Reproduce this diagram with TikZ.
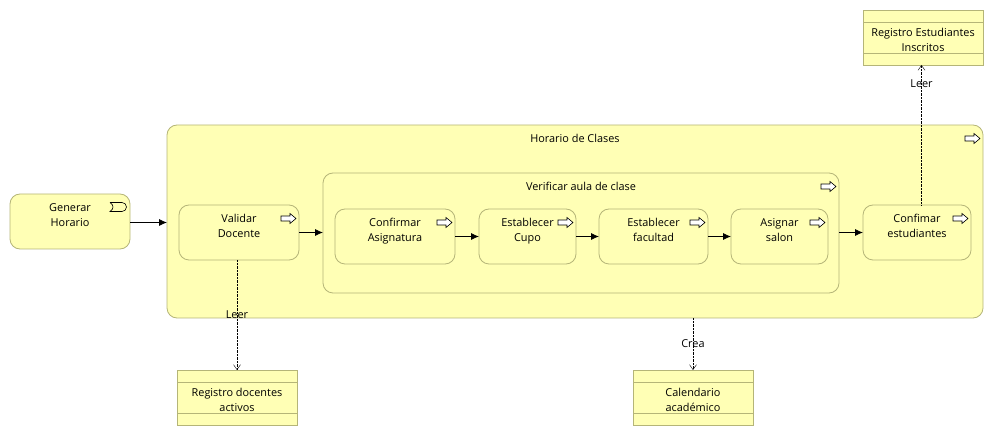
\documentclass[tikz,border=0pt]{standalone}
\usepackage{fontspec}
\setmainfont{Open Sans}
\usetikzlibrary{positioning,arrows.meta}
\definecolor{bizfill}{RGB}{255,255,181}
\definecolor{bizline}{RGB}{181,181,120}

\begin{document}
\begin{tikzpicture}[
    x=1pt,y=1pt,
    txt/.style    ={font=\fontsize{10.9}{15}\selectfont,align=center,text=black},
    box/.style    ={draw=bizline,line width=.8pt,fill=bizfill,rounded corners=10pt,inner sep=0pt,outer sep=0pt,txt},
    procbox/.style={box,minimum width=#1,minimum height=55pt},
    databox/.style={draw=bizline,line width=.8pt,fill=bizfill,inner sep=0pt,outer sep=0pt,txt,
                    minimum width=120pt,minimum height=55pt,
                    path picture={
                      \draw[bizline,line width=.8pt] ([yshift=-12pt]path picture bounding box.north west) -- ([yshift=-12pt]path picture bounding box.north east);
                      \draw[bizline,line width=.8pt] ([yshift=12pt]path picture bounding box.south west) -- ([yshift=12pt]path picture bounding box.south east);
                    }},
    flow/.style   ={-{Latex[length=8pt,width=7pt]},black,thick},
    access/.style ={-{Straight Barb[length=5pt,width=7pt]},black,densely dotted},
    linklabel/.style={txt,inner sep=0pt},
    procicon/.pic ={\draw[black,fill=white,line width=.6pt] (-15,-2.5) -- (-6,-2.5) -- (-6,-5) -- (0,0) -- (-6,5) -- (-6,2.5) -- (-15,2.5) -- cycle;},
    evticon/.pic  ={\draw[black,fill=bizfill,line width=.6pt] (-17,4.5) -- (-5,4.5) arc[start angle=90,end angle=-90,radius=4.5] -- (-17,-4.5) .. controls (-13,-2) and (-13,2) .. (-17,4.5);}
]
\useasboundingbox (0,0) rectangle (993,-435);

% outer process
\node[box,minimum width=816pt,minimum height=193pt,anchor=north west] (horario) at (167,-125) {};
\node[txt,below=6pt of horario.north] (horariotxt) {Horario de Clases};
\pic at ([shift={(-3,-13.5)}]horario.north east) {procicon};

% trigger
\node[procbox=120pt,anchor=north west] (generar) at (10,-194) {Generar\\Horario\\[-6pt]\strut};
\pic at ([shift={(-3,-13)}]generar.north east) {evticon};

\node[procbox=120pt,anchor=north west] (validar) at (179,-205) {Validar\\Docente\\[-6pt]\strut};
\pic at ([shift={(-3,-13.5)}]validar.north east) {procicon};

% inner process
\node[box,minimum width=516pt,minimum height=120pt,anchor=north west] (verificar) at (323,-173) {};
\node[txt,below=6pt of verificar.north] (verificartxt) {Verificar aula de clase};
\pic at ([shift={(-3,-13.5)}]verificar.north east) {procicon};

\node[procbox=120pt,anchor=north west] (asignatura) at (335,-209) {Confirmar\\Asignatura\\[-6pt]\strut};
\node[procbox=97pt,right=24pt of asignatura]  (cupo)     {Establecer\\Cupo\\[-6pt]\strut};
\node[procbox=109pt,right=23pt of cupo]       (facultad) {Establecer\\facultad\\[-6pt]\strut};
\node[procbox=97pt,right=23pt of facultad]    (salon)    {Asignar\\salon\\[-6pt]\strut};
\pic at ([shift={(-3,-13.5)}]asignatura.north east) {procicon};
\pic at ([shift={(-3,-13.5)}]cupo.north east) {procicon};
\pic at ([shift={(-3,-13.5)}]facultad.north east) {procicon};
\pic at ([shift={(-3,-13.5)}]salon.north east) {procicon};

\node[procbox=108pt,anchor=north west] (estudiantes) at (863,-205) {Confimar\\estudiantes\\[-6pt]\strut};
\pic at ([shift={(-3,-13.5)}]estudiantes.north east) {procicon};

% data objects
\node[databox,anchor=north west] (regest) at (863,-10)  {\strut\\[-13pt]Registro Estudiantes\\Inscritos};
\node[databox,anchor=north west] (regdoc) at (177,-370) {\strut\\[-13pt]Registro docentes\\activos};
\node[databox,anchor=north west] (calend) at (633,-370) {\strut\\[-13pt]Calendario\\académico};

\draw[flow] ([yshift=-1pt]generar.east) -- ([yshift=-1pt]horario.west |- generar);
\draw[flow] (validar) -- (verificar.west |- validar);
\draw[flow] (asignatura) -- (cupo);
\draw[flow] (cupo) -- (facultad);
\draw[flow] (facultad) -- (salon);
\draw[flow] (verificar.east |- estudiantes) -- (estudiantes);

\draw[access] (validar.south -| regdoc.north) -- node[linklabel]{Leer} (regdoc.north);
\draw[access] (horario.south -| calend.north) -- node[linklabel]{Crea} (calend.north);
\draw[access] ([xshift=4.5pt]estudiantes.north) -- node[linklabel,pos=.87]{Leer} ([xshift=-1.5pt]regest.south);
\end{tikzpicture}
\end{document}
